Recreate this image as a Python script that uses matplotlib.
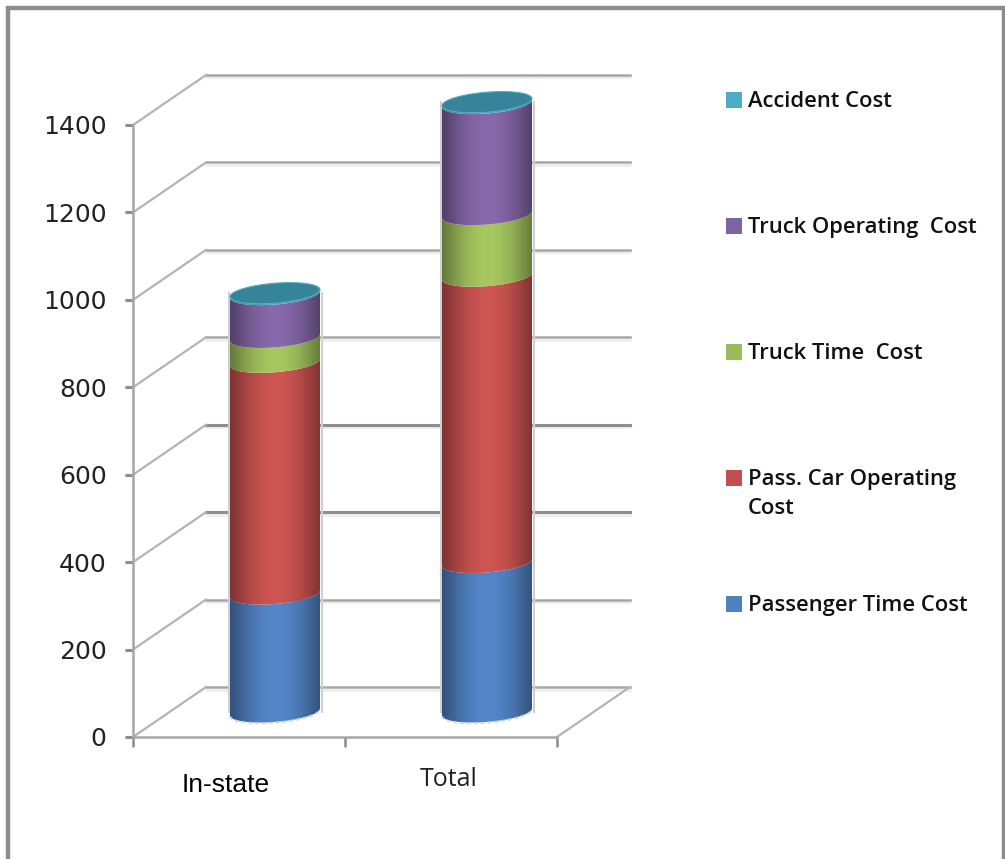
import matplotlib
matplotlib.use('Agg')
import matplotlib.pyplot as plt
import numpy as np
from matplotlib.patches import PathPatch, Polygon, Rectangle
from matplotlib.path import Path
from matplotlib.transforms import Affine2D

# data
categories = ['In-state', 'Total']
series_names = ['Passenger Time Cost', 'Pass. Car Operating Cost', 'Truck Time Cost',
                'Truck Operating Cost', 'Accident Cost']
passenger_time = [270, 342]
pass_car_operating = [530, 655]
truck_time = [57, 141]
truck_operating = [98, 254]
accident = [3, 3]
y_ticks = [0, 200, 400, 600, 800, 1000, 1200, 1400]

# styles
W, H = 1005, 859
side_colors = ['#5486C9', '#CE5552', '#A6C85F', '#8869AC', '#4BACC6']
legend_colors = ['#4F81BD', '#C0504D', '#9BBB59', '#8064A2', '#4BACC6']
legend_labels = ['Passenger Time Cost', 'Pass. Car Operating\nCost', 'Truck Time  Cost',
                 'Truck Operating  Cost', 'Accident Cost']
legend_y = [604, 478, 352, 226, 100]
grid_col = '#A6A6A6'
font = 'Open Sans'

fig = plt.figure(figsize=(W / 100, H / 100), dpi=100)
L, R, T, B = 133, 557, 125, 737
ax = fig.add_axes([L / W, 1 - B / H, (R - L) / W, (B - T) / H])
ax.set_xlim(0, 2)
ax.set_ylim(0, 1400)
ax.patch.set_alpha(0)

px_x = 2 / (R - L)          # data units per pixel
px_y = 1400 / (B - T)
depth_x = 73 * px_x
depth_y = 50 * px_y

# outer frame, open at the bottom
pixels = Affine2D().scale(1 / W, -1 / H).translate(0, 1) + fig.transFigure
fig.add_artist(plt.Line2D([7.5, 7.5, 1003.5, 1003.5], [H, 7.5, 7.5, H], transform=pixels,
                          color='#8C8C8C', lw=3.2, solid_joinstyle='miter'))

# walls
for v in y_ticks:
    dark = v in (400, 600)
    ax.plot([depth_x, 2 + depth_x], [v + depth_y - 2.5 * px_y] * 2, color='#ECECEC', lw=1.8,
            clip_on=False, zorder=1)
    ax.plot([depth_x, 2 + depth_x], [v + depth_y] * 2, color='#8E8E8E' if dark else grid_col,
            lw=2.2 if dark else 1.8, clip_on=False, zorder=2)
    ax.plot([0, depth_x], [v, v + depth_y], color='#B4B4B4', lw=1.6, clip_on=False, zorder=2)
ax.plot([2, 2 + depth_x], [0, depth_y], color='#B4B4B4', lw=1.6, clip_on=False, zorder=2)

for side in ['top', 'right']:
    ax.spines[side].set_visible(False)
for side in ['left', 'bottom']:
    ax.spines[side].set_color(grid_col)
    ax.spines[side].set_linewidth(1.8)
ax.set_yticks(y_ticks)
ax.set_xticks([0, 1, 2])
ax.set_xticklabels([])
ax.tick_params(axis='y', length=6, width=2.2, color='#8C8C8C', pad=13, labelsize=18)
ax.tick_params(axis='x', length=7, width=1.8, color='#8C8C8C')
for lab in ax.get_yticklabels():
    lab.set_fontfamily('DejaVu Sans')
    lab.set_color('#222222')


def front_arc(cx, value, t):
    # tilted ellipse of the cylinder section, in data units
    x = cx + 45 * px_x * np.cos(t)
    y = value + (10 * np.sin(t) + 3.5 * np.cos(t)) * px_y
    return x, y


def shade(rgb):
    u = np.linspace(-1, 1, 90)
    k = 0.62 + 0.38 * np.clip(1 - np.abs(u - 0.02) ** 2.0, 0, 1) ** 1.2
    base = np.array(matplotlib.colors.to_rgb(rgb))
    return (k[:, None] * base)[None, :, :]


stack = np.array([passenger_time, pass_car_operating, truck_time, truck_operating, accident], dtype=float)
base_height = 25 * px_y
centres = [0.5 + depth_x / 2 - 0.5 * px_x, 1.5 + depth_x / 2 - 0.5 * px_x]
front = np.linspace(np.pi, 2 * np.pi, 60)

for i, cx in enumerate(centres):
    bottom = base_height
    total = base_height + stack[:, i].sum()
    # soft grey edge along the sides
    for sx in (-46.5, 46.5):
        ax.plot([cx + sx * px_x] * 2, [bottom, total], color='#CFCFD6', lw=1.5, clip_on=False, zorder=2.5)
    xb, yb = front_arc(cx, bottom - 0.6 * px_y, front)
    ax.plot(xb, yb, color='#C5D6EC', lw=1.4, ls=(0, (2, 1.5)), clip_on=False, zorder=4)
    for j in range(len(series_names)):
        top = bottom + stack[j, i]
        x0, y0 = front_arc(cx, bottom, front)
        x1, y1 = front_arc(cx, top, front)
        verts = np.r_[np.c_[x0, y0], np.c_[x1, y1][::-1], [[x0[0], y0[0]]]]
        patch = PathPatch(Path(verts), fc='none', ec='none', transform=ax.transData)
        ax.add_patch(patch)
        patch.set_clip_on(False)
        img = ax.imshow(shade(side_colors[j]),
                        extent=[cx - 45 * px_x, cx + 45 * px_x, bottom - 20 * px_y, top + 20 * px_y],
                        aspect='auto', zorder=3, interpolation='bilinear')
        img.set_clip_box(fig.bbox)
        img.set_clip_path(patch)
        bottom = top
    # top of the cylinder
    t = np.linspace(0, 2 * np.pi, 120)
    xt, yt = front_arc(cx, bottom, t)
    ax.add_patch(Polygon(np.c_[xt, yt], fc='#37849A', ec='#4BACC6', lw=0.8, zorder=4, clip_on=False))

ax.set_xlim(0, 2)
ax.set_ylim(0, 1400)

# category labels
ax.text(226, 785, categories[0], transform=pixels, ha='center', va='center',
        family='Liberation Sans', fontsize=19, color='black')
ax.text(449, 780, categories[1], transform=pixels, ha='center', va='center',
        family=font, fontsize=18, fontweight='medium', color='#222222')

# legend
for name, col, lab, y in zip(series_names, legend_colors, legend_labels, legend_y):
    fig.add_artist(Rectangle((726, y - 8), 16, 16, transform=pixels, fc=col, ec='none'))
    fig.text(748 / W, 1 - (y - 9) / H, lab, ha='left', va='top', family=font, fontsize=15.8,
             fontweight='semibold', color='#111111', linespacing=1.52)

fig.savefig('out.png', dpi=100)
